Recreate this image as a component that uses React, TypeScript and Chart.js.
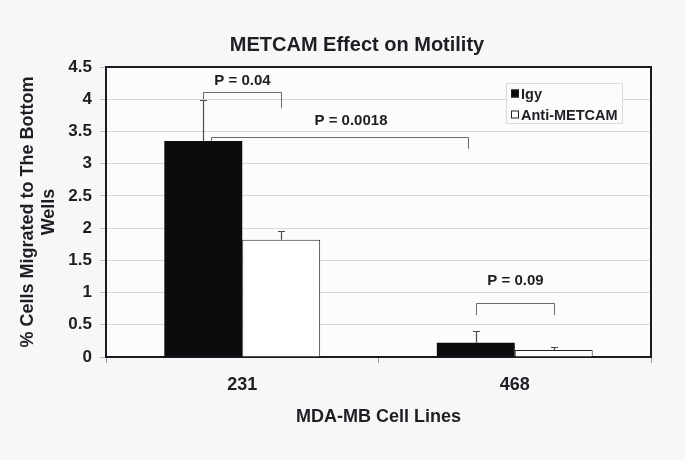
import React, { useEffect, useRef } from 'react';
import { Chart, registerables } from 'chart.js';

Chart.register(...registerables);

const categories = ['231', '468'];
const seriesNames = ['Igy', 'Anti-METCAM'];
const igyValues = [3.35, 0.22];
const antiValues = [1.82, 0.11];
const igyErrors = [0.64, 0.19];
const antiErrors = [0.13, 0.04];

const yMin = 0;
const yMax = 4.5;
const yStep = 0.5;

const chartTitle = 'METCAM Effect on Motility';
const yTitle = ['% Cells Migrated to The Bottom', 'Wells'];
const xTitle = 'MDA-MB Cell Lines';

// significance brackets (dataset index, category index), heights in data units
const pLabels = ['P = 0.04', 'P = 0.0018', 'P = 0.09'];
const pFrom = [[0, 0], [0, 0], [0, 1]];
const pTo = [[1, 0], [0, 1], [1, 1]];
const pLineY = [4.11, 3.41, 0.84];
const pLeftEnd = [4.0, 3.35, 0.65];
const pRightEnd = [3.86, 3.23, 0.65];
const pTextY = [4.28, 3.67, 1.18];

const FONT = '"Liberation Sans", Arial, Helvetica, sans-serif';
const TEXT = '#1e1e24';

const errors = [igyErrors, antiErrors];
const values = [igyValues, antiValues];

const extrasPlugin = {
  id: 'extras',
  afterLayout(chart: any) {
    const tb = chart.titleBlock;
    if (tb) {
      tb.left += 55;
    }
  },
  beforeDraw(chart: any) {
    const { ctx, chartArea: a, width, height } = chart;
    ctx.save();
    ctx.fillStyle = '#f7f7f7';
    ctx.fillRect(0, 0, width, height);
    ctx.fillStyle = '#fcfcfc';
    ctx.fillRect(a.left, a.top, a.right - a.left, a.bottom - a.top);
    ctx.restore();
  },
  afterDatasetsDraw(chart: any) {
    const { ctx, chartArea: a } = chart;
    const y = chart.scales.y;
    ctx.save();

    // error bars (upper only)
    ctx.strokeStyle = '#4a4a4a';
    ctx.lineWidth = 1.2;
    for (let d = 0; d < 2; d++) {
      const meta = chart.getDatasetMeta(d);
      meta.data.forEach((bar: any, i: number) => {
        const x = Math.round(bar.x) + 0.5;
        const y0 = y.getPixelForValue(values[d][i]);
        const y1 = Math.round(y.getPixelForValue(values[d][i] + errors[d][i])) + 0.5;
        ctx.beginPath();
        ctx.moveTo(x, y0);
        ctx.lineTo(x, y1);
        ctx.moveTo(x - 3.5, y1);
        ctx.lineTo(x + 3.5, y1);
        ctx.stroke();
      });
    }

    // significance brackets
    ctx.strokeStyle = '#6a6a6a';
    ctx.lineWidth = 1;
    ctx.fillStyle = TEXT;
    ctx.font = `bold 15px ${FONT}`;
    ctx.textAlign = 'center';
    ctx.textBaseline = 'middle';
    pLabels.forEach((label, k) => {
      const [fd, fi] = pFrom[k];
      const [td, ti] = pTo[k];
      const inset = fd === td ? 8 : 0;
      const x1 = Math.round(chart.getDatasetMeta(fd).data[fi].x + inset) + 0.5;
      const x2 = Math.round(chart.getDatasetMeta(td).data[ti].x - inset) + 0.5;
      const ly = Math.round(y.getPixelForValue(pLineY[k])) + 0.5;
      ctx.beginPath();
      ctx.moveTo(x1, y.getPixelForValue(pLeftEnd[k]));
      ctx.lineTo(x1, ly);
      ctx.lineTo(x2, ly);
      ctx.lineTo(x2, y.getPixelForValue(pRightEnd[k]));
      ctx.stroke();
      const tx = (x1 + x2) / 2 + (fd === td ? 11 : 0);
      ctx.fillText(label, tx, y.getPixelForValue(pTextY[k]));
    });

    // top and right frame
    ctx.strokeStyle = '#1a1a22';
    ctx.lineWidth = 2;
    ctx.beginPath();
    ctx.moveTo(a.left, a.top);
    ctx.lineTo(a.right, a.top);
    ctx.lineTo(a.right, a.bottom);
    ctx.stroke();

    // legend
    const lw = 116;
    const lh = 40;
    const lx = a.right - 145;
    const ly = a.top + 16;
    ctx.fillStyle = '#fcfcfc';
    ctx.fillRect(lx, ly, lw, lh);
    ctx.strokeStyle = '#dadada';
    ctx.lineWidth = 1;
    ctx.strokeRect(lx + 0.5, ly + 0.5, lw, lh);
    ctx.font = `bold 14.5px ${FONT}`;
    ctx.textAlign = 'left';
    ctx.textBaseline = 'middle';
    chart.data.datasets.forEach((ds: any, k: number) => {
      const cy = ly + 10.5 + k * 21;
      ctx.fillStyle = ds.backgroundColor;
      ctx.fillRect(lx + 5, cy - 4, 8, 8);
      ctx.strokeStyle = '#222';
      ctx.strokeRect(lx + 5.5, cy - 3.5, 7, 7);
      ctx.fillStyle = TEXT;
      ctx.fillText(ds.label, lx + 15, cy + 1);
    });
    ctx.restore();
  },
};

export default function App() {
  const ref = useRef<HTMLCanvasElement | null>(null);

  useEffect(() => {
    document.body.style.margin = '0';
    document.body.style.background = '#f7f7f7';
    const canvas = ref.current;
    if (!canvas) return;
    const chart = new Chart(canvas, {
      type: 'bar',
      data: {
        labels: categories,
        datasets: [
          {
            label: seriesNames[0],
            data: igyValues,
            backgroundColor: '#0c0c0f',
            borderColor: '#0c0c0f',
            borderWidth: 0,
            categoryPercentage: 0.572,
            barPercentage: 1,
          },
          {
            label: seriesNames[1],
            data: antiValues,
            backgroundColor: '#ffffff',
            borderColor: '#222222',
            borderWidth: 1,
            categoryPercentage: 0.572,
            barPercentage: 1,
          },
        ],
      },
      options: {
        animation: false,
        responsive: false,
        devicePixelRatio: 1,
        layout: { padding: { left: 8, right: 34, top: 0, bottom: 0 } },
        plugins: {
          legend: { display: false },
          tooltip: { enabled: false },
          title: {
            display: true,
            text: chartTitle,
            color: TEXT,
            font: { family: FONT, size: 20, weight: 'bold' },
            padding: { top: 33, bottom: 10 },
          },
        },
        scales: {
          x: {
            grid: { display: true, drawOnChartArea: false, tickLength: 6, tickColor: '#999', offset: true },
            border: { display: true, color: '#1a1a22', width: 2 },
            ticks: { color: TEXT, font: { family: FONT, size: 18, weight: 'bold' }, padding: 11 },
            title: {
              display: true,
              text: xTitle,
              color: TEXT,
              font: { family: FONT, size: 18, weight: 'bold' },
              padding: { top: 0, bottom: 32 },
            },
            afterFit: (s: any) => {
              s.height = 103;
            },
          },
          y: {
            min: yMin,
            max: yMax,
            ticks: {
              stepSize: yStep,
              color: TEXT,
              font: { family: FONT, size: 17, weight: 'bold' },
              padding: 8,
              callback: (v: any) => String(Number(v)),
            },
            grid: { color: '#d8d8d8', tickColor: '#bbb', tickLength: 6 },
            border: { display: true, color: '#1a1a22', width: 2 },
            title: {
              display: true,
              text: yTitle,
              color: TEXT,
              font: { family: FONT, size: 18, weight: 'bold' },
              padding: { top: 9, bottom: 0 },
            },
            afterFit: (s: any) => {
              s.width = 98;
            },
          },
        },
      } as any,
      plugins: [extrasPlugin],
    });
    return () => chart.destroy();
  }, []);

  return (
    <div style={{ width: 685, height: 460 }}>
      <canvas ref={ref} width={685} height={460} style={{ width: 685, height: 460, display: 'block' }} />
    </div>
  );
}
